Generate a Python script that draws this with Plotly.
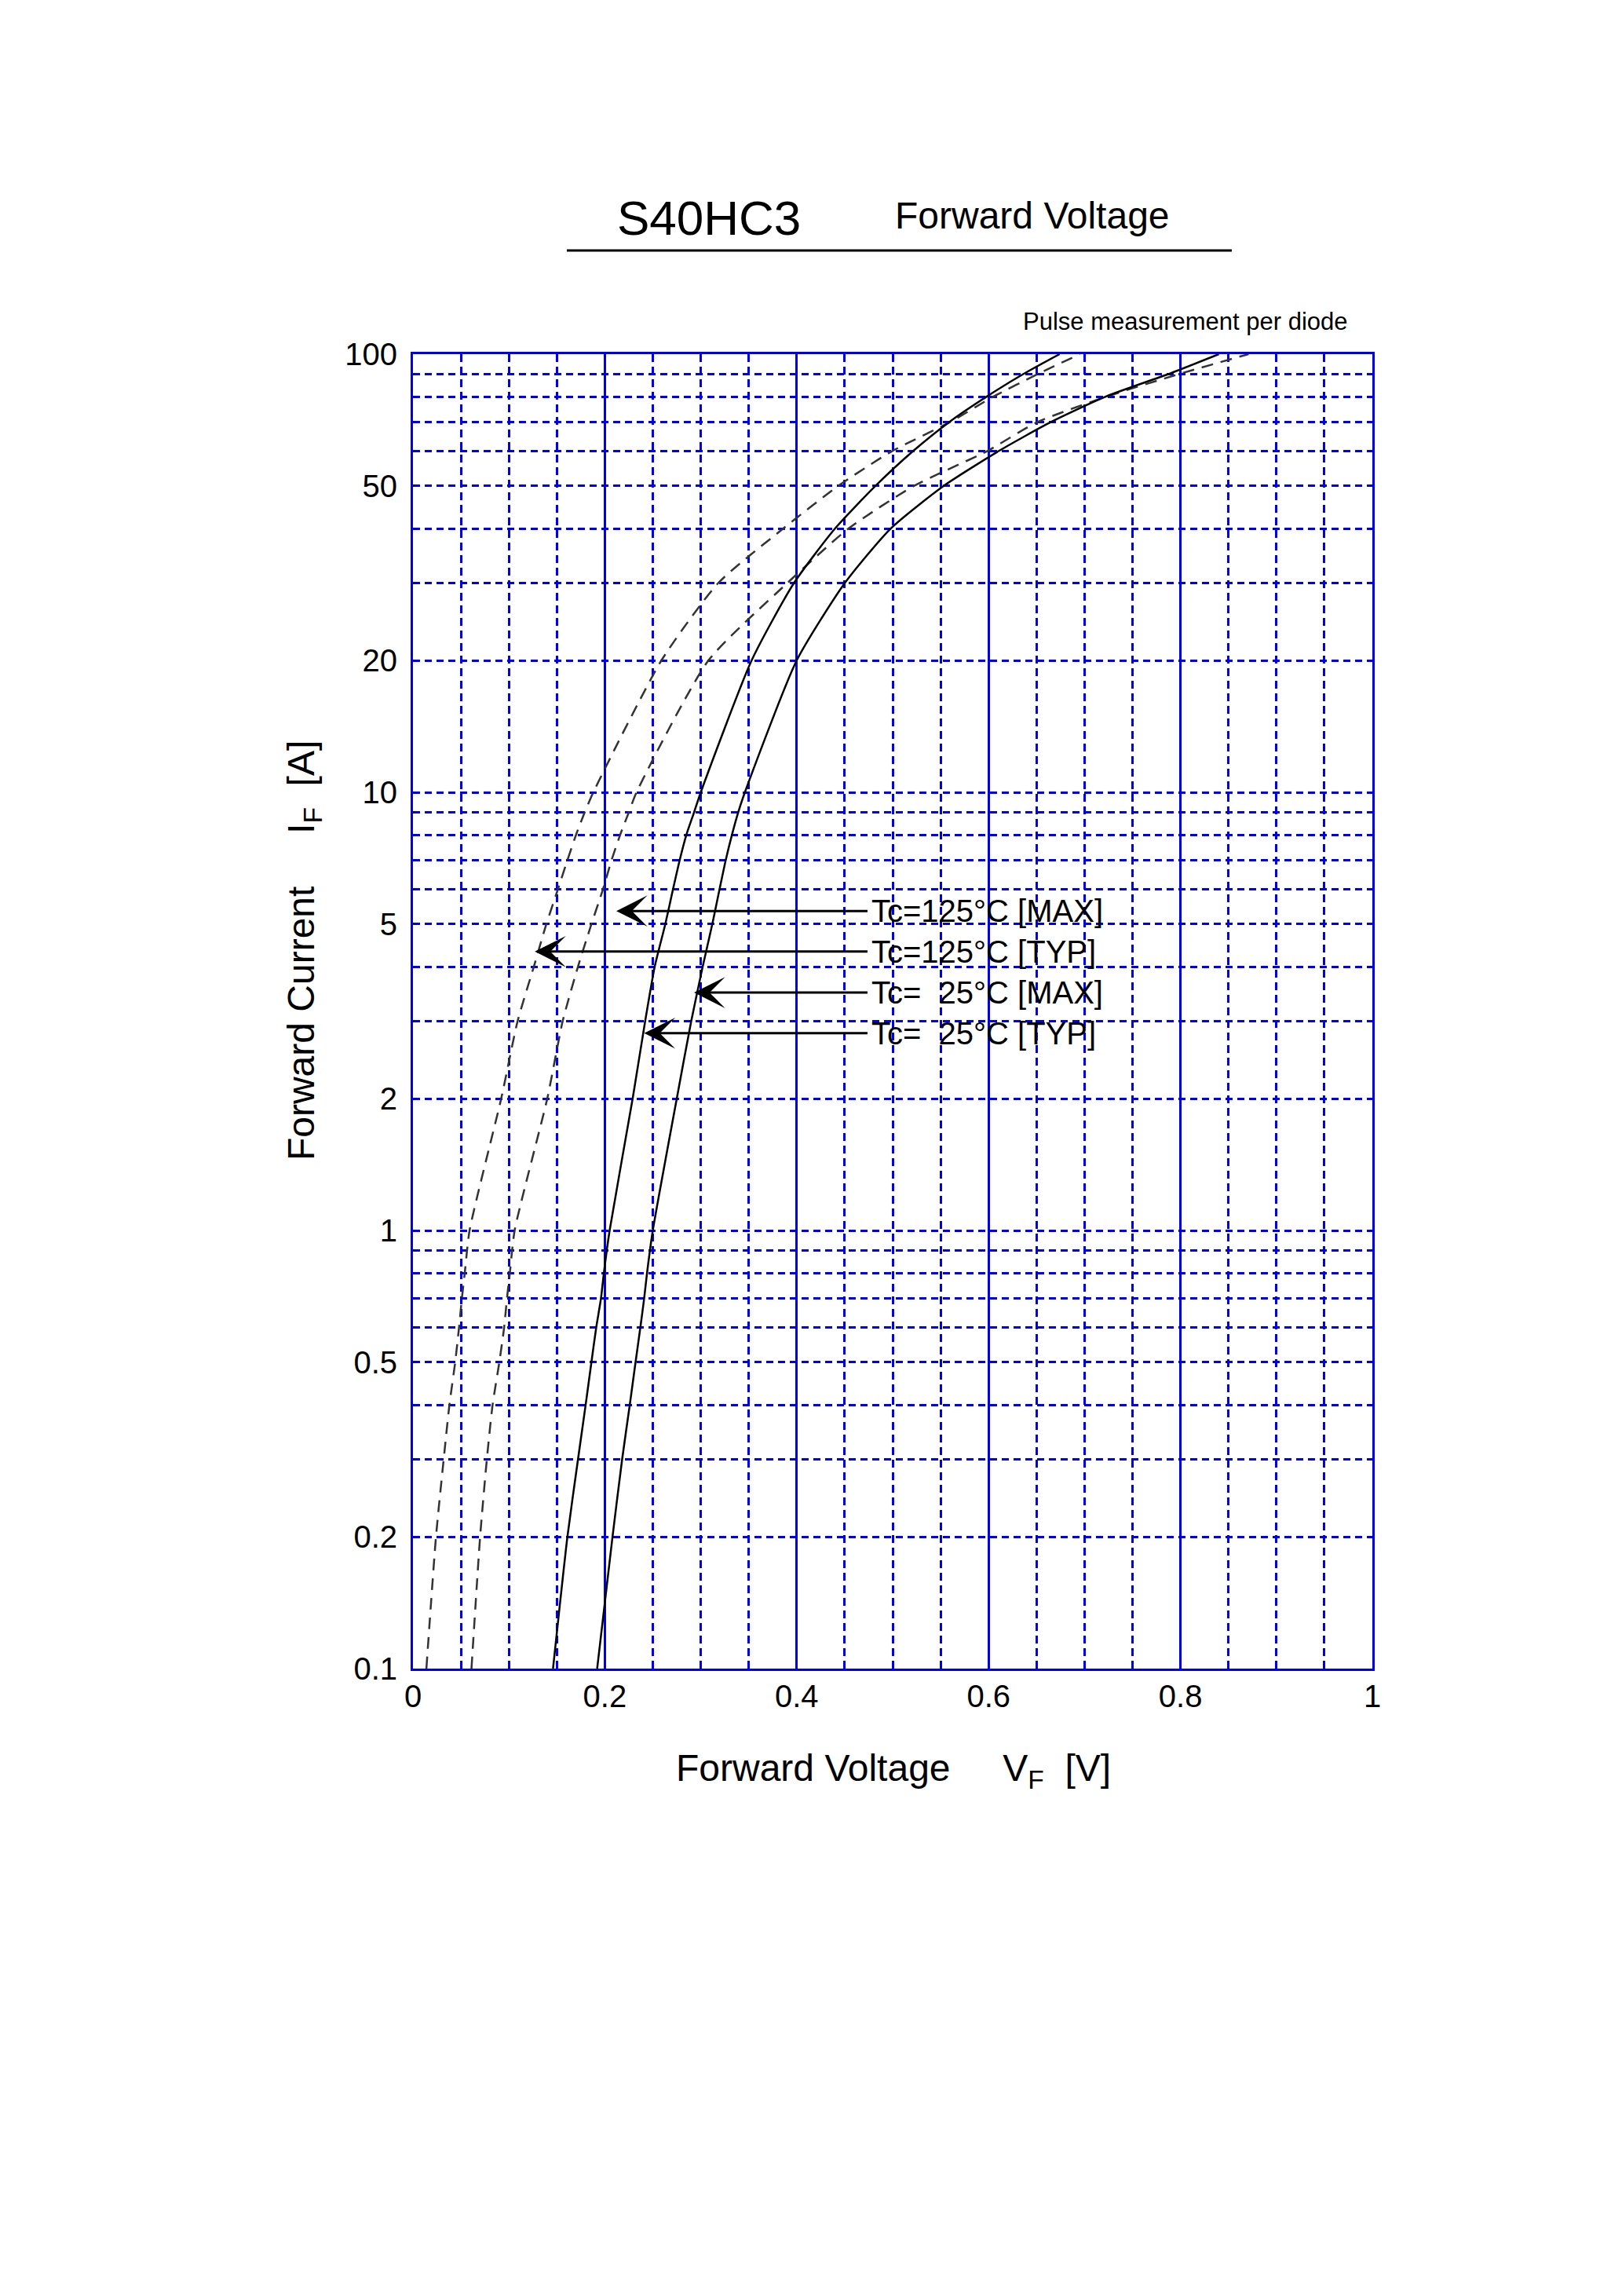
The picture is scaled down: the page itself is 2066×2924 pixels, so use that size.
import numpy as np
import plotly.graph_objects as go

# Forward current IF [A] at which the voltages below were read
current = [0.1, 0.2, 0.3, 0.4, 0.5, 0.6, 0.7, 0.8, 1, 2, 3, 4, 5, 6, 7, 8, 9, 10,
           20, 30, 40, 50, 60, 70, 80, 90, 100]

# Forward voltage VF [V] for each curve
vf_25_typ = [0.146, 0.161, 0.172, 0.180, 0.186, 0.191, 0.196, 0.199, 0.205, 0.229, 0.242,
             0.252, 0.263, 0.271, 0.278, 0.285, 0.293, 0.300, 0.353, 0.397, 0.440, 0.482,
             0.521, 0.559, 0.598, 0.636, 0.674]
vf_25_max = [0.192, 0.208, 0.218, 0.226, 0.232, 0.237, 0.241, 0.244, 0.250, 0.275, 0.290,
             0.302, 0.312, 0.3195, 0.326, 0.3325, 0.339, 0.346, 0.400, 0.450, 0.498, 0.553,
             0.610, 0.665, 0.722, 0.787, 0.840]
vf_125_typ = [0.014, 0.024, 0.032, 0.038, 0.044, 0.048, 0.051, 0.054, 0.059, 0.092, 0.109,
              0.126, 0.139, 0.151, 0.161, 0.170, 0.179, 0.188, 0.259, 0.318, 0.386, 0.443,
              0.499, 0.560, 0.605, 0.651, 0.695]
vf_125_max = [0.061, 0.070, 0.077, 0.083, 0.090, 0.095, 0.098, 0.101, 0.106, 0.140, 0.156,
              0.172, 0.186, 0.198, 0.207, 0.216, 0.225, 0.233, 0.308, 0.390, 0.454, 0.522,
              0.598, 0.651, 0.723, 0.798, 0.871]

# curve labels with the point each arrow touches
arrow_labels = ["Tc=125°C [MAX]", "Tc=125°C [TYP]",
                "Tc=\u00a0\u00a025°C [MAX]", "Tc=\u00a0\u00a025°C [TYP]"]
arrow_tip_v = [0.212, 0.127, 0.293, 0.241]
arrow_tip_i = [5.36, 4.33, 3.49, 2.82]
label_v = 0.475

# y grid lines (every 1..9 per decade) and their labels
y_grid = [0.1, 0.2, 0.3, 0.4, 0.5, 0.6, 0.7, 0.8, 0.9,
          1, 2, 3, 4, 5, 6, 7, 8, 9,
          10, 20, 30, 40, 50, 60, 70, 80, 90, 100]
y_labels = ["0.1", "0.2", "", "", "0.5", "", "", "", "",
            "1", "2", "", "", "5", "", "", "", "",
            "10", "20", "", "", "50", "", "", "", "", "100"]

BLUE = "#0000e6"
FONT = "Liberation Sans, Arial, Helvetica, sans-serif"

fig = go.Figure()

curves = [
    (vf_125_typ, "125 TYP", "#333333", "15px,10px"),
    (vf_125_max, "125 MAX", "#333333", "15px,10px"),
    (vf_25_typ, "25 TYP", "black", "solid"),
    (vf_25_max, "25 MAX", "black", "solid"),
]
for vf, name, color, dash in curves:
    fig.add_trace(go.Scatter(
        x=vf, y=current, mode="lines", name=name,
        line=dict(color=color, width=2.5, dash=dash, shape="spline", smoothing=0.6),
    ))

# arrows from the labels to the curves
for text, tv, ti in zip(arrow_labels, arrow_tip_v, arrow_tip_i):
    fig.add_annotation(
        x=tv, y=np.log10(ti), xref="x", yref="y",
        ax=label_v, ay=np.log10(ti), axref="x", ayref="y",
        text="", showarrow=True, arrowhead=3, arrowsize=2.2, arrowwidth=3,
        arrowcolor="black", standoff=0,
    )
    fig.add_annotation(
        x=label_v + 0.001, y=np.log10(ti), xref="x", yref="y",
        text=text, showarrow=False, xanchor="left", yanchor="middle",
        font=dict(size=40, color="black", family=FONT),
    )

# header
fig.add_annotation(x=0.3085, y=1.1039, xref="paper", yref="paper", text="S40HC3",
                   showarrow=False, xanchor="center", yanchor="middle",
                   font=dict(size=62, color="black", family=FONT))
fig.add_annotation(x=0.5008, y=1.1054, xref="paper", yref="paper", text="Forward Voltage",
                   showarrow=False, xanchor="left", yanchor="middle",
                   font=dict(size=48, color="black", family=FONT))
fig.add_shape(type="line", xref="paper", yref="paper", x0=0.1604, x1=0.8535,
              y0=1.0789, y1=1.0789, line=dict(color="black", width=3))
fig.add_annotation(x=0.9763, y=1.0245, xref="paper", yref="paper",
                   text="Pulse measurement per diode", showarrow=False,
                   xanchor="right", yanchor="middle",
                   font=dict(size=31, color="black", family=FONT))

# axis titles
fig.add_annotation(x=0.5008, y=-0.0774, xref="paper", yref="paper",
                   text="Forward Voltage\u00a0\u00a0\u00a0\u00a0\u00a0V<sub>F</sub>\u00a0\u00a0[V]",
                   showarrow=False, xanchor="center", yanchor="middle",
                   font=dict(size=48, color="black", family=FONT))
fig.add_annotation(x=-0.1137, y=0.546, xref="paper", yref="paper", textangle=-90,
                   text="Forward Current\u00a0\u00a0\u00a0\u00a0\u00a0I<sub>F</sub>\u00a0\u00a0[A]",
                   showarrow=False, xanchor="center", yanchor="middle",
                   font=dict(size=48, color="black", family=FONT))

fig.update_xaxes(
    range=[0, 1], tickmode="linear", tick0=0, dtick=0.2, ticks="",
    showgrid=True, gridcolor=BLUE, gridwidth=2.5,
    minor=dict(tick0=0, dtick=0.05, showgrid=True, gridcolor=BLUE, gridwidth=2.5,
               griddash="10px,6px", ticks=""),
    showline=True, linecolor=BLUE, linewidth=3, mirror=True, zeroline=False,
    tickfont=dict(size=40, color="black", family=FONT), ticklabelstandoff=-2,
)
fig.update_yaxes(
    type="log", range=[-1, 2], tickmode="array", tickvals=y_grid, ticktext=y_labels,
    ticks="", showgrid=True, gridcolor=BLUE, gridwidth=2.5, griddash="9px,6px",
    showline=True, linecolor=BLUE, linewidth=3, mirror=True, zeroline=False,
    tickfont=dict(size=40, color="black", family=FONT), ticklabelstandoff=9,
)

# the page body adds 8px on the left and top, so the margins allow for it
fig.update_layout(
    width=2066, height=2924, autosize=False,
    margin=dict(l=518, r=326, t=443, b=807),
    paper_bgcolor="white", plot_bgcolor="white",
    showlegend=False,
    font=dict(family=FONT, color="black"),
)

fig.write_html("out.html")
